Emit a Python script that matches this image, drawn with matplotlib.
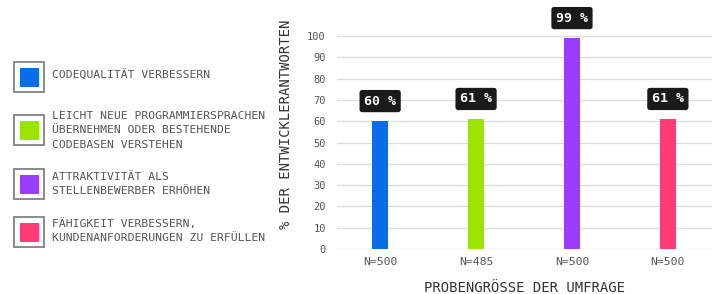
import matplotlib
matplotlib.use("Agg")
import matplotlib.pyplot as plt
from matplotlib.patches import Rectangle
import numpy as np

categories = [
    "CODEQUALITÄT VERBESSERN",
    "LEICHT NEUE PROGRAMMIERSPRACHEN\nÜBERNEHMEN ODER BESTEHENDE\nCODEBASEN VERSTEHEN",
    "ATTRAKTIVITÄT ALS\nSTELLENBEWERBER ERHÖHEN",
    "FÄHIGKEIT VERBESSERN,\nKUNDENANFORDERUNGEN ZU ERFÜLLEN",
]
values = [60, 61, 99, 61]
sample_labels = ["N=500", "N=485", "N=500", "N=500"]
colors = ["#0A6DE8", "#9BE300", "#9B3DFF", "#FF3B77"]
yticks = [0, 10, 20, 30, 40, 50, 60, 70, 80, 90, 100]

plt.rcParams["font.family"] = ["DejaVu Sans Mono"]
text_gray = "#555555"

fig = plt.figure(figsize=(7.2, 2.94), dpi=100)

# bar chart
ax = fig.add_axes([337 / 720, 45 / 294, 375 / 720, 249 / 294])
x = np.arange(len(values))
ax.bar(x, values, width=0.16, color=colors, zorder=3)
ax.set_xlim(-0.45, 3.46)
ax.set_ylim(0, 117)
ax.set_yticks(yticks)
ax.set_yticklabels([str(t) for t in yticks], fontsize=7.5, color=text_gray)
ax.set_xticks(x)
ax.set_xticklabels(sample_labels, fontsize=8.2, color=text_gray)
ax.tick_params(length=0, pad=8)
ax.tick_params(axis="x", pad=6)
ax.grid(axis="y", color="#dddddd", linewidth=1, zorder=0)
for s in ax.spines.values():
    s.set_visible(False)
ax.set_xlabel("PROBENGRÖSSE DER UMFRAGE", fontsize=10, color="#333333", labelpad=10)
ax.set_ylabel("% DER ENTWICKLERANTWORTEN", fontsize=10, color="#333333", labelpad=10)

for xi, v in zip(x, values):
    ax.text(xi, v + 9.5, f"{v} %", ha="center", va="center", fontsize=9.5,
            fontweight="bold", color="white", zorder=5, clip_on=False,
            bbox=dict(boxstyle="round,pad=0.35,rounding_size=0.2",
                      fc="#1a1a1a", ec="none"))

# legend drawn in pixel coordinates
lg = fig.add_axes([0, 0, 330 / 720, 1])
lg.set_xlim(0, 330)
lg.set_ylim(294, 0)
lg.axis("off")

box_tops = [62, 115, 169, 217]
text_tops = [75, 116, 177, 223]
for top, ttop, label, c in zip(box_tops, text_tops, categories, colors):
    lg.add_patch(Rectangle((14, top), 30, 30, fc="white", ec="#8a8a8a", lw=1.4))
    lg.add_patch(Rectangle((19.5, top + 5.5), 19, 19, fc=c, ec="none"))
    lg.text(52, ttop - 5, label, ha="left", va="top", fontsize=8.2,
            color=text_gray, linespacing=1.55)

fig.savefig("out.png", dpi=100)
